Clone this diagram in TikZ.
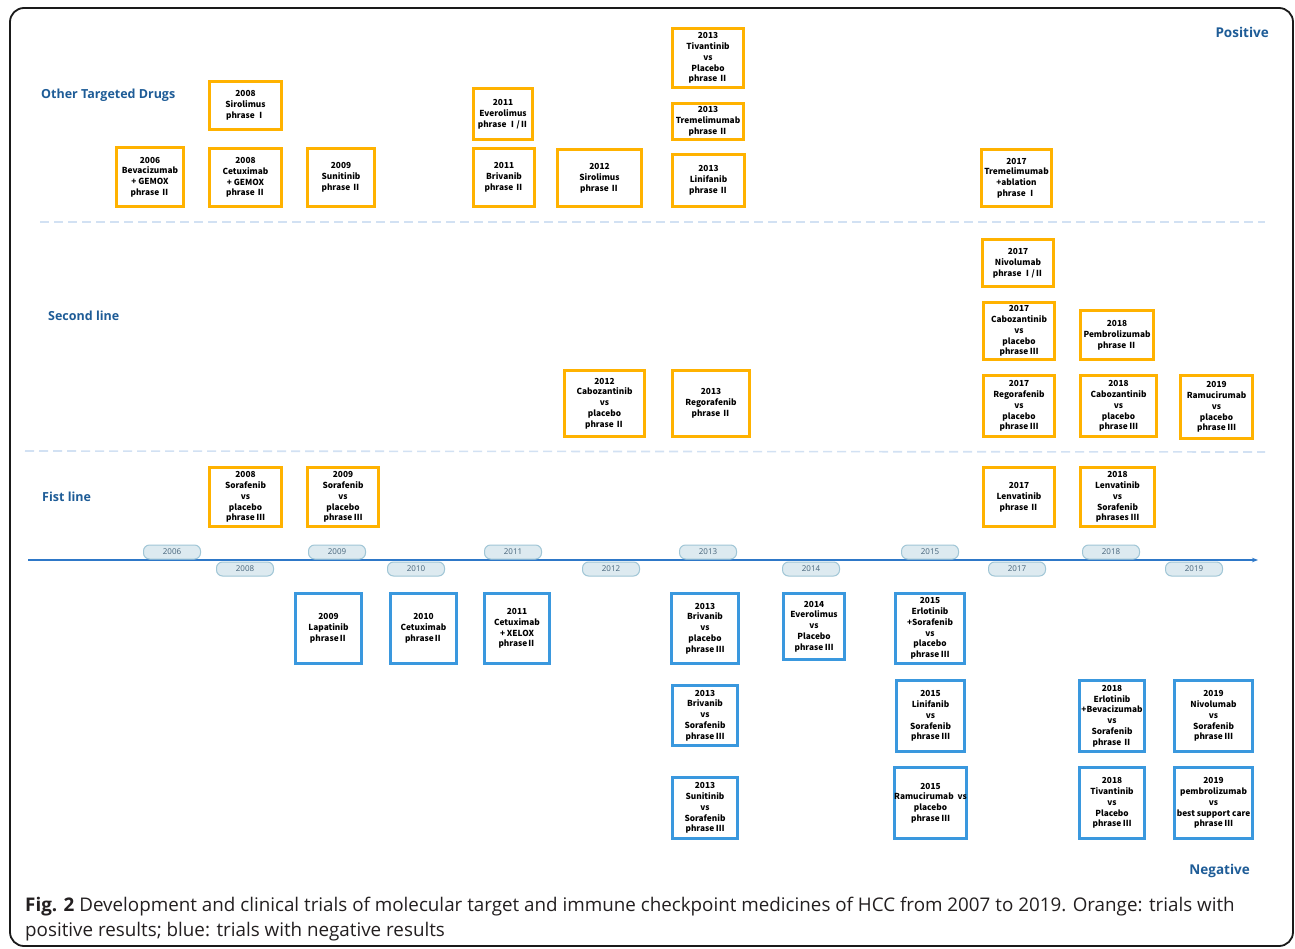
\documentclass[tikz,border=0pt]{standalone}
\usepackage{fontspec}
\setmainfont{Open Sans}
\newfontfamily\boxfont{Noto Sans CJK SC}
\usetikzlibrary{arrows.meta}
\definecolor{orangeC}{RGB}{255,178,0}
\definecolor{blueC}{RGB}{58,152,222}
\definecolor{labC}{RGB}{30,92,151}
\definecolor{dashC}{RGB}{210,225,243}
\definecolor{axisC}{RGB}{46,120,200}
\definecolor{pillF}{RGB}{221,234,240}
\definecolor{pillB}{RGB}{160,198,214}
\definecolor{pillT}{RGB}{70,100,122}
\definecolor{frameC}{RGB}{26,26,26}
\definecolor{capC}{RGB}{35,31,32}
\newcommand\trialbox[7]{\node[#1, minimum width=#5pt-3.2pt, minimum height=#6pt-3.2pt] (#2) at (#3,#4) {#7};}
\begin{document}
\begin{tikzpicture}[x=1pt,y=-1pt,
  posbox/.style={draw=orangeC, line width=3.2pt, fill=white, align=center, inner sep=0pt,
    font=\boxfont\bfseries\fontsize{8.3}{10.8}\selectfont, text=black},
  negbox/.style={posbox, draw=blueC},
  yearpill/.style={draw=pillB, fill=pillF, rounded corners=6pt, minimum width=57pt,
    minimum height=14pt, inner sep=0pt, font=\fontsize{8}{9}\selectfont, text=pillT, line width=1pt},
  lbl/.style={text=labC, font=\bfseries\fontsize{12.5}{15}\selectfont, inner sep=0pt},
  biglbl/.style={lbl, font=\bfseries\fontsize{13.5}{16}\selectfont},
  sepline/.style={draw=dashC, line width=1.6pt, dash pattern=on 9pt off 5pt},
  axisline/.style={draw=axisC, line width=1.4pt, -{Stealth[length=6pt,width=4.5pt]}},
  captxt/.style={anchor=base west, inner sep=0pt, text=capC, font=\fontsize{18.8}{22}\selectfont}
]
\useasboundingbox (0,0) rectangle (1295,948);
\fill[white] (0,0) rectangle (1295,948);
\draw[line width=1.8pt, draw=frameC, rounded corners=14pt] (10,8) rectangle (1293,946);

% section labels
\node[lbl, anchor=west] (lOther) at (41,95) {Other Targeted Drugs};
\node[lbl, anchor=west] (lSecond) at (48,316) {Second line};
\node[lbl, anchor=west] (lFirst) at (42,497) {Fist line};
\node[biglbl, anchor=east] (lPos) at (1269,32) {Positive};
\node[biglbl, anchor=east] (lNeg) at (1250,871) {Negative};

% separators
\coordinate (s1a) at (40,222); \coordinate (s1b) at (1265,222);
\coordinate (s2a) at (25,451); \coordinate (s2b) at (1265,452);
\draw[sepline] (s1a) -- (s1b);
\draw[sepline] (s2a) -- (s2b);

% axis
\coordinate (axL) at (28,560); \coordinate (axR) at (1258,560);
\draw[axisline] (axL) -- (axR);
\node[yearpill] (y2006) at (172,552) {2006};
\node[yearpill] (y2009) at (337,552) {2009};
\node[yearpill] (y2011) at (513,552) {2011};
\node[yearpill] (y2013) at (708,552) {2013};
\node[yearpill] (y2015) at (930,552) {2015};
\node[yearpill] (y2018) at (1111,552) {2018};
\node[yearpill] (y2008) at (245,569) {2008};
\node[yearpill] (y2010) at (416,569) {2010};
\node[yearpill] (y2012) at (611,569) {2012};
\node[yearpill] (y2014) at (811,569) {2014};
\node[yearpill] (y2017) at (1017,569) {2017};
\node[yearpill] (y2019) at (1194,569) {2019};

% other targeted drugs (positive)
\trialbox{posbox}{o1}{245.5}{105.5}{75}{51}{2008\\Sirolimus\\phrase Ⅰ}
\trialbox{posbox}{o2}{150}{177}{70}{62}{2006\\Bevacizumab\\+ GEMOX\\phrase Ⅱ}
\trialbox{posbox}{o3}{245.5}{177.5}{75}{61}{2008\\Cetuximab\\+ GEMOX\\phrase Ⅱ}
\trialbox{posbox}{o4}{341}{177.5}{70}{61}{2009\\Sunitinib\\phrase Ⅱ}
\trialbox{posbox}{o5}{503}{114}{62}{54}{2011\\Everolimus\\phrase Ⅰ/Ⅱ}
\trialbox{posbox}{o6}{504}{177.5}{64}{61}{2011\\Brivanib\\phrase Ⅱ}
\trialbox{posbox}{o7}{599.5}{178}{87}{60}{2012\\Sirolimus\\phrase Ⅱ}
\trialbox{posbox}{o8}{708}{58}{74}{62}{2013\\Tivantinib\\vs\\Placebo\\phrase Ⅱ}
\trialbox{posbox}{o9}{708}{121.5}{74}{39}{2013\\Tremelimumab\\phrase Ⅱ}
\trialbox{posbox}{o10}{708.5}{180.5}{75}{55}{2013\\Linifanib\\phrase Ⅱ}
\trialbox{posbox}{o11}{1016.5}{178}{73}{60}{2017\\Tremelimumab\\+ablation\\phrase Ⅰ}

% second line (positive)
\trialbox{posbox}{o12}{1018}{263}{74}{50}{2017\\Nivolumab\\phrase Ⅰ/Ⅱ}
\trialbox{posbox}{o13}{1019}{331}{74}{60}{2017\\Cabozantinib\\vs\\placebo\\phrase Ⅲ}
\trialbox{posbox}{o14}{1117}{335}{76}{52}{2018\\Pembrolizumab\\phrase Ⅱ}
\trialbox{posbox}{o15}{604.5}{403.5}{83}{69}{2012\\Cabozantinib\\vs\\placebo\\phrase Ⅱ}
\trialbox{posbox}{o16}{711}{403.5}{80}{69}{2013\\Regorafenib\\phrase Ⅱ}
\trialbox{posbox}{o17}{1019}{406}{74}{64}{2017\\Regorafenib\\vs\\placebo\\phrase Ⅲ}
\trialbox{posbox}{o18}{1118.5}{406}{79}{64}{2018\\Cabozantinib\\vs\\placebo\\phrase Ⅲ}
\trialbox{posbox}{o19}{1216.5}{407}{75}{66}{2019\\Ramucirumab\\vs\\placebo\\phrase Ⅲ}

% first line (positive)
\trialbox{posbox}{o20}{245.5}{497}{75}{62}{2008\\Sorafenib\\vs\\placebo\\phrase Ⅲ}
\trialbox{posbox}{o21}{343}{497}{74}{62}{2009\\Sorafenib\\vs\\placebo\\phrase Ⅲ}
\trialbox{posbox}{o22}{1019}{497}{74}{62}{2017\\Lenvatinib\\phrase Ⅱ}
\trialbox{posbox}{o23}{1117.5}{497}{77}{62}{2018\\Lenvatinib\\vs\\Sorafenib\\phrases Ⅲ}

% negative
\trialbox{negbox}{b1}{328.5}{628.5}{69}{73}{2009\\Lapatinib\\phraseⅡ}
\trialbox{negbox}{b2}{423.5}{628.5}{69}{73}{2010\\Cetuximab\\phraseⅡ}
\trialbox{negbox}{b3}{517}{628.5}{68}{73}{2011\\Cetuximab\\+ XELOX\\phraseⅡ}
\trialbox{negbox}{b4}{705}{628.5}{70}{73}{2013\\Brivanib\\vs\\placebo\\phrase Ⅲ}
\trialbox{negbox}{b5}{814}{626.5}{64}{69}{2014\\Everolimus\\vs\\Placebo\\phrase Ⅲ}
\trialbox{negbox}{b6}{930}{628.5}{72}{73}{2015\\Erlotinib\\+Sorafenib\\vs\\placebo\\phrase Ⅲ}
\trialbox{negbox}{b7}{705}{715.5}{68}{63}{2013\\Brivanib\\vs\\Sorafenib\\phrase Ⅲ}
\trialbox{negbox}{b8}{930.5}{716}{71}{74}{2015\\Linifanib\\vs\\Sorafenib\\phrase Ⅲ}
\trialbox{negbox}{b9}{1112}{716}{68}{74}{2018\\Erlotinib\\+Bevacizumab\\vs\\Sorafenib\\phrase Ⅱ}
\trialbox{negbox}{b10}{1213.5}{716}{81}{74}{2019\\Nivolumab\\vs\\Sorafenib\\phrase Ⅲ}
\trialbox{negbox}{b11}{705}{808}{68}{64}{2013\\Sunitinib\\vs\\Sorafenib\\phrase Ⅲ}
\trialbox{negbox}{b12}{930.5}{803}{71}{74}{2015\\Ramucirumab\ \ vs\\placebo\\phrase Ⅲ}
\trialbox{negbox}{b13}{1112}{803}{68}{74}{2018\\Tivantinib\\vs\\Placebo\\phrase Ⅲ}
\trialbox{negbox}{b14}{1213.5}{803}{81}{74}{2019\\pembrolizumab\\vs\\best support care\\phrase Ⅲ}

% caption
\node[captxt] (cap1) at (25,911) {\textbf{Fig. 2} Development and clinical trials of molecular target and immune checkpoint medicines of HCC from 2007 to 2019. Orange: trials with};
\node[captxt] (cap2) at (25,936) {positive results; blue: trials with negative results};
\end{tikzpicture}
\end{document}
